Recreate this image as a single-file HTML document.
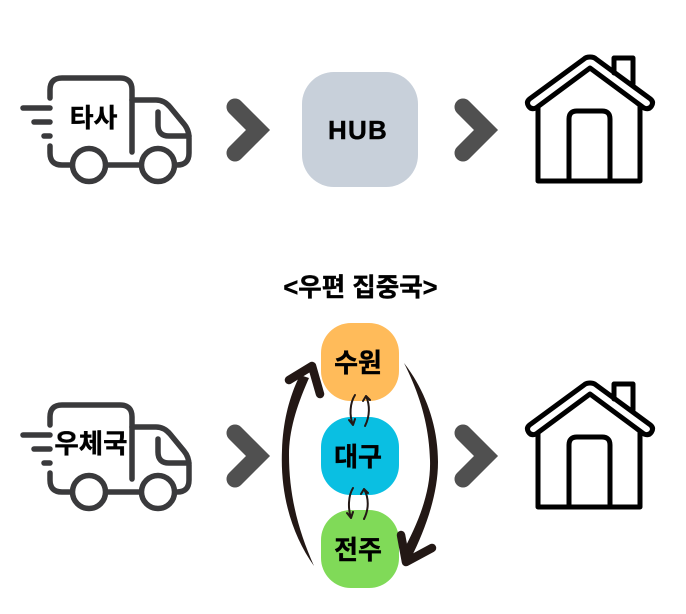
<!DOCTYPE html>
<html><head><meta charset="utf-8">
<style>
html,body{margin:0;padding:0;background:#fff;width:686px;height:614px;overflow:hidden}
svg{display:block}
text{font-family:"Liberation Sans","Noto Sans CJK KR",sans-serif;font-weight:700;fill:#000;text-anchor:middle;stroke:#000;stroke-width:.4px}
</style></head>
<body>
<svg width="686" height="614" viewBox="0 0 686 614" xmlns="http://www.w3.org/2000/svg">
<defs>
<g id="truck" fill="none" stroke="#3a3a3c" stroke-width="5.5" stroke-linecap="round" stroke-linejoin="round">
  <path d="M50 98V90Q50 78 62 78H120Q132 78 132 90V152"/>
  <path d="M132 100H156Q164 100 170 107L184 124Q189 130 189 138V153Q189 165 177 165H175"/>
  <path d="M158 112V125Q158 136 169 136H189"/>
  <path d="M50 146V153Q50 165 62 165H72M106 165H141"/>
  <circle cx="89" cy="165" r="16.5"/>
  <circle cx="158" cy="165" r="16.5"/>
  <path d="M23 108H50M34 122H50M44 136H50"/>
</g>
<g id="house" fill="none" stroke="#000" stroke-width="5" stroke-linejoin="round" stroke-linecap="round">
  <path d="M590 57Q586 57 584 59L529.500 99Q526 102 528.500 106Q531 110 536 108L590 68L644 108Q649 110 651.500 106Q654 102 650.500 99L596 59Q594 57 590 57Z"/>
  <path d="M538 107V181H640V107"/>
  <path d="M569 181V119Q569 111 577 111H602Q610 111 610 119V181"/>
  <path d="M614 73V58H633V84"/>
</g>
<path id="chev" d="M235 107L258 130L235 153" fill="none" stroke="#505050" stroke-width="17" stroke-linecap="round" stroke-linejoin="miter"/>
</defs>

<use href="#truck"/>
<use href="#truck" y="327"/>
<use href="#chev"/>
<use href="#chev" x="228"/>
<use href="#chev" y="326"/>
<use href="#chev" x="228" y="326"/>
<use href="#house"/>
<use href="#house" y="326"/>

<rect x="302" y="72" width="116" height="115" rx="32" fill="#c8d0da"/>
<text x="358" y="139" font-size="26" letter-spacing="1.2">HUB</text>

<text x="93.500" y="127" font-size="26">타사</text>
<text x="91" y="453" font-size="26.500">우체국</text>
<text x="360.500" y="296" font-size="25.500">&lt;우편 집중국&gt;</text>

<rect x="321" y="323" width="78" height="78" rx="30" fill="#ffbb5a"/>
<rect x="321" y="417" width="78" height="78" rx="30" fill="#0abfe2"/>
<rect x="321" y="510" width="78" height="78" rx="30" fill="#80da58"/>
<text x="358" y="372" font-size="26">수원</text>
<text x="358" y="466" font-size="26">대구</text>
<text x="358" y="559" font-size="26">전주</text>

<g fill="#231815" stroke="none">
  <path d="M314 566C292 535 280 495 282 450C283 420 290 395 300 375L309 378C297 405 289 430 289 455C289 495 298 530 314 566Z"/>
  <path d="M404 363C425 390 438 425 438 462C438 495 425 530 411 558L402 553C420 520 431 490 430 460C429 425 420 395 404 363Z"/>
</g>
<g fill="none" stroke="#231815" stroke-width="8.500" stroke-linecap="round" stroke-linejoin="round">
  <path d="M289 380L312 366L320 394"/>
  <path d="M401 535L406 562L432 548"/>
</g>
<g fill="none" stroke="#231815" stroke-width="2" stroke-linecap="round" stroke-linejoin="round">
  <path d="M355 395C350 403 349 415 353 425M349 420L353 425L355 419"/>
  <path d="M365 426C370 416 370 405 366 396M363 401L366 396L370 400"/>
  <path d="M353 488C348 496 348 509 351 518M347 513L351 518L353 512"/>
  <path d="M364 519C369 509 369 498 364 489M361 494L364 489L368 493"/>
</g>
</svg>
</body></html>
